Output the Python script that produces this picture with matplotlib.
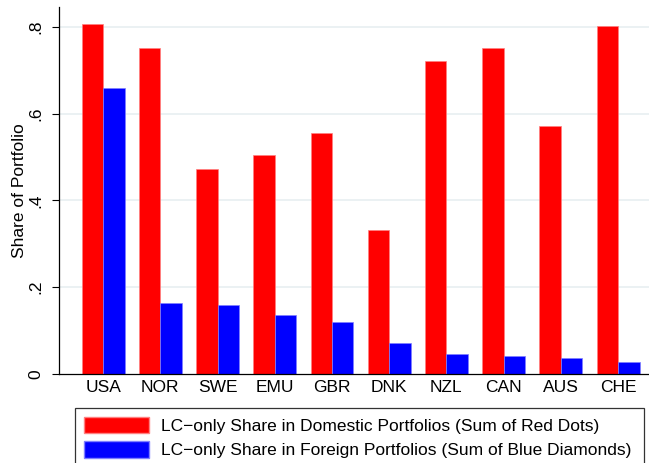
"""
Local-currency-only portfolio shares, domestic vs foreign (Stata-style bar chart)
"""
import matplotlib.pyplot as plt
from matplotlib.patches import Patch
import numpy as np

plt.rcParams['font.family'] = ['Liberation Sans', 'DejaVu Sans']

countries = ['USA', 'NOR', 'SWE', 'EMU', 'GBR', 'DNK', 'NZL', 'CAN', 'AUS', 'CHE']
domestic = [0.807, 0.752, 0.473, 0.505, 0.556, 0.332, 0.722, 0.752, 0.572, 0.802]
foreign = [0.659, 0.164, 0.159, 0.136, 0.120, 0.071, 0.046, 0.041, 0.037, 0.028]
yticks = [0, 0.2, 0.4, 0.6, 0.8]
ytick_labels = ['0', '.2', '.4', '.6', '.8']

red = '#ff0000'
blue = '#0000ff'
grid_col = '#e8eff1'

fig = plt.figure(figsize=(6.49, 4.63), dpi=100)
ax = fig.add_axes([59 / 649, 89 / 463, 590 / 649, 367 / 463])

x = np.arange(len(countries))
w = 0.375
ax.bar(x - w / 2, domestic, w, color=red, edgecolor='#ff8080', linewidth=0.5, zorder=2)
ax.bar(x + w / 2, foreign, w, color=blue, edgecolor='#8080ff', linewidth=0.5, zorder=2)

ax.set_xlim(-0.77, 9.54)
ax.set_ylim(0, 0.846)

ax.set_yticks(yticks)
ax.set_yticklabels(ytick_labels, rotation=90, va='center', fontsize=12.5)
for y in yticks[1:]:
    ax.axhline(y, color=grid_col, linewidth=1.2, zorder=1)

ax.set_xticks(x)
ax.set_xticklabels(countries, fontsize=12.5)
ax.tick_params(axis='x', length=0, pad=4)
ax.tick_params(axis='y', length=5, width=0.8, pad=6)

ax.set_ylabel('Share of Portfolio', fontsize=12.5, labelpad=1)

for side in ['top', 'right']:
    ax.spines[side].set_visible(False)
ax.spines['left'].set_linewidth(0.9)
ax.spines['bottom'].set_linewidth(0.9)

handles = [
    Patch(facecolor=red, edgecolor='#ff8080', label='LC\u2212only Share in Domestic Portfolios (Sum of Red Dots)'),
    Patch(facecolor=blue, edgecolor='#8080ff', label='LC\u2212only Share in Foreign Portfolios (Sum of Blue Diamonds)'),
]
leg = fig.legend(handles=handles, loc='upper left',
                 bbox_to_anchor=(75 / 649, 0, 569 / 649, 55 / 463),
                 mode='expand', fontsize=12.5, frameon=True, fancybox=False,
                 edgecolor='black', handlelength=3.75, handleheight=1.1,
                 handletextpad=0.7, labelspacing=0.4, borderpad=0.5,
                 borderaxespad=0)
leg.get_frame().set_linewidth(0.9)

plt.savefig('out.png', dpi=100, facecolor='white')
